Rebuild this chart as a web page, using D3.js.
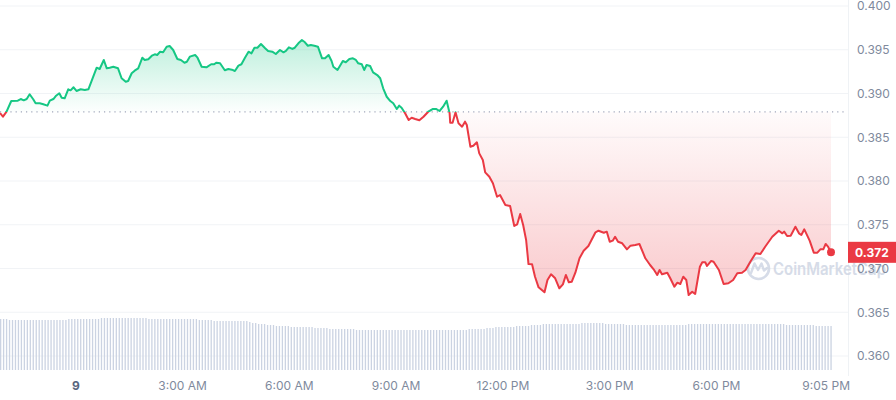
<!DOCTYPE html>
<html><head><meta charset="utf-8">
<script src="https://cdn.jsdelivr.net/npm/d3@7"></script>
<style>html,body{margin:0;padding:0;background:#fff;} svg{display:block;font-family:Inter,"Noto Sans",sans-serif;}</style>
</head><body><svg id="chart" width="896" height="400"></svg>
<script>
// ---------- data ----------
const baseDate = new Date(2024, 0, 9, 0, 0, 0);
// minutes relative to midnight of the 9th (negative = previous evening)
const minutes = [-127,-122,-116,-108,-97,-92,-87,-82,-77,-71,
-67,-60,-54,-47,-43,-37,-33,-27,-23,-18,
-12,-8,-3,2,9,16,22,27,36,41,
48,53,58,64,72,78,85,89,95,100,
106,113,117,123,129,134,138,143,148,154,
159,165,172,178,184,188,193,202,206,213,
221,229,234,238,244,252,258,264,269,275,
280,286,292,297,302,307,313,320,325,332,
338,345,351,355,360,366,370,376,382,386,
392,397,403,409,416,421,427,432,435,442,
451,456,462,468,473,477,483,487,491,497,
502,509,514,519,525,531,536,542,546,550,
556,562,567,573,580,587,595,603,608,614,
620,626,631,632,636,641,646,652,657,660,
666,671,677,681,687,691,698,704,711,716,
725,733,740,745,750,755,760,764,770,775,
781,791,796,802,809,816,822,827,832,837,
843,850,857,865,877,882,891,896,901,906,
910,915,922,930,936,944,951,961,969,975,
981,985,989,998,1003,1010,1015,1020,1025,1030,
1034,1040,1045,1053,1057,1062,1065,1072,1076,1085,
1093,1101,1109,1116,1124,1130,1138,1147,1155,1163,
1175,1186,1192,1195,1200,1206,1214,1220,1224,1229,
1238,1245,1251,1256,1261,1265,1269,1274];
const prices = [0.38777,0.38735,0.38792,0.38914,0.38918,0.38937,0.38922,0.38937,0.38991,0.38934,
0.38888,0.38888,0.38877,0.38861,0.38918,0.38937,0.38971,0.39002,0.38952,0.38945,
0.39048,0.39036,0.39071,0.39029,0.39048,0.39040,0.39048,0.39135,0.39295,0.39280,
0.39383,0.39288,0.39295,0.39306,0.39288,0.39174,0.39135,0.39143,0.39231,0.39261,
0.39288,0.39409,0.39383,0.39391,0.39432,0.39448,0.39440,0.39478,0.39471,0.39535,
0.39543,0.39497,0.39394,0.39383,0.39352,0.39363,0.39421,0.39440,0.39409,0.39306,
0.39299,0.39334,0.39334,0.39352,0.39345,0.39265,0.39280,0.39272,0.39257,0.39318,
0.39334,0.39409,0.39478,0.39459,0.39523,0.39523,0.39566,0.39517,0.39486,0.39478,
0.39451,0.39497,0.39471,0.39486,0.39528,0.39509,0.39523,0.39574,0.39611,0.39592,
0.39546,0.39554,0.39546,0.39535,0.39402,0.39402,0.39440,0.39371,0.39306,0.39269,
0.39371,0.39357,0.39394,0.39402,0.39383,0.39345,0.39334,0.39269,0.39326,0.39314,
0.39242,0.39211,0.39174,0.39059,0.38963,0.38914,0.38888,0.38823,0.38861,0.38838,
0.38774,0.38697,0.38723,0.38709,0.38694,0.38735,0.38792,0.38823,0.38823,0.38800,
0.38849,0.38918,0.38774,0.38666,0.38666,0.38785,0.38659,0.38621,0.38678,0.38640,
0.38392,0.38403,0.38442,0.38316,0.38240,0.38099,0.38049,0.37974,0.37820,0.37840,
0.37726,0.37714,0.37486,0.37505,0.37623,0.37497,0.37326,0.37051,0.37048,0.36906,
0.36785,0.36728,0.36869,0.36934,0.36888,0.36774,0.36819,0.36926,0.36842,0.36849,
0.36952,0.37117,0.37203,0.37257,0.37414,0.37432,0.37409,0.37421,0.37306,0.37318,
0.37363,0.37306,0.37288,0.37219,0.37261,0.37269,0.37280,0.37117,0.37040,0.36991,
0.36926,0.36983,0.36934,0.36952,0.36888,0.36792,0.36838,0.36823,0.36906,0.36869,
0.36697,0.36735,0.36709,0.37021,0.37071,0.37071,0.37029,0.37086,0.37078,0.36983,
0.36823,0.36831,0.36869,0.36945,0.36952,0.36983,0.37078,0.37174,0.37166,0.37249,
0.37363,0.37432,0.37402,0.37421,0.37371,0.37375,0.37478,0.37402,0.37383,0.37448,
0.37318,0.37181,0.37181,0.37219,0.37219,0.37280,0.37249,0.37185];
const openPrice = 0.3879;
const volumeStartMinute = -126;
const volumeStepMinutes = 5;
const volumes = [51,51,51,
50,50,50,50,50,50,50,50,50,50,50,50,50,50,50,50,50,50,50,50,
51,51,51,51,51,51,51,51,51,51,51,
52,52,52,52,52,52,52,52,52,52,52,52,52,52,52,52,
51,51,51,51,51,51,51,51,51,51,51,51,51,51,51,51,51,
50,50,50,50,50,
49,49,49,49,49,49,49,49,49,49,49,49,
48,47,47,46,46,46,45,45,45,
44,44,44,44,44,
43,43,43,43,43,43,43,43,
42,42,42,42,42,
41,41,41,41,41,41,41,41,41,
40,40,40,40,40,40,40,40,40,40,40,40,40,40,40,40,40,40,40,
40,40,40,40,40,40,40,40,40,40,40,40,40,40,40,40,40,40,40,
41,41,41,41,41,41,
42,42,42,
43,43,43,43,43,43,43,
44,44,44,44,44,
45,45,45,45,
46,46,46,46,46,46,46,46,46,46,46,46,46,
47,47,47,47,47,47,47,47,
46,46,46,46,46,46,46,
45,45,45,45,45,45,45,45,45,45,45,45,45,45,45,45,45,45,45,45,45,
46,46,46,46,46,46,46,46,46,46,46,46,46,46,46,46,46,46,46,46,46,46,46,46,46,46,46,46,46,46,46,46,46,
45,45,45,45,45,45,45,45,45,45,
44,44,44,44,44,44];
const yTickValues = [0.360,0.365,0.370,0.375,0.380,0.385,0.390,0.395,0.400];
const xTickMinutes = [0,180,360,540,720,900,1080,1265];
const xTickLabels = ["9","3:00 AM","6:00 AM","9:00 AM","12:00 PM","3:00 PM","6:00 PM","9:05 PM"];

// ---------- chart ----------
const GREEN = "#16c784", RED = "#ea3943";
const svg = d3.select("#chart");
const plotRight = 831, axisX = 848;
const toDate = m => new Date(baseDate.getTime() + m * 60000);
const series = minutes.map((m, i) => ({t: toDate(m), p: prices[i]}));

const x = d3.scaleTime()
  .domain([toDate(minutes[0]), toDate(minutes[minutes.length - 1])])
  .range([0, plotRight]);
const y = d3.scaleLinear().domain([0.36, 0.40]).range([356, 6]);
const yVol = d3.scaleLinear().domain([0, 100]).range([370, 270]);
const yBase = y(openPrice);

const defs = svg.append("defs");
defs.append("clipPath").attr("id", "above").append("rect")
  .attr("x", -5).attr("y", -5).attr("width", 900).attr("height", yBase + 5);
defs.append("clipPath").attr("id", "below").append("rect")
  .attr("x", -5).attr("y", yBase).attr("width", 900).attr("height", 400);
const gG = defs.append("linearGradient").attr("id", "gGreen")
  .attr("gradientUnits", "userSpaceOnUse").attr("x1", 0).attr("x2", 0)
  .attr("y1", y(d3.max(prices))).attr("y2", yBase);
gG.append("stop").attr("offset", 0).attr("stop-color", GREEN).attr("stop-opacity", 0.28);
gG.append("stop").attr("offset", 1).attr("stop-color", GREEN).attr("stop-opacity", 0.01);
const gR = defs.append("linearGradient").attr("id", "gRed")
  .attr("gradientUnits", "userSpaceOnUse").attr("x1", 0).attr("x2", 0)
  .attr("y1", yBase).attr("y2", y(d3.min(prices)));
gR.append("stop").attr("offset", 0).attr("stop-color", RED).attr("stop-opacity", 0.02);
gR.append("stop").attr("offset", 1).attr("stop-color", RED).attr("stop-opacity", 0.27);

// gridlines
svg.append("g").selectAll("line").data(yTickValues).join("line")
  .attr("x1", 0).attr("x2", axisX)
  .attr("y1", d => y(d)).attr("y2", d => y(d))
  .attr("stroke", "#f1f3f6").attr("stroke-width", 1);
svg.append("line").attr("x1", axisX + 0.5).attr("x2", axisX + 0.5)
  .attr("y1", 0).attr("y2", 376).attr("stroke", "#eff2f5");

// volume bars
svg.append("g").selectAll("rect").data(volumes).join("rect")
  .attr("x", (d, i) => x(toDate(volumeStartMinute + i * volumeStepMinutes)) - 0.6)
  .attr("width", 1.3)
  .attr("y", d => yVol(d))
  .attr("height", d => yVol(0) - yVol(d))
  .attr("fill", "#cbd3e2");

// areas
const area = d3.area().x(d => x(d.t)).y0(yBase).y1(d => y(d.p));
svg.append("path").datum(series).attr("d", area)
  .attr("fill", "url(#gGreen)").attr("clip-path", "url(#above)");
svg.append("path").datum(series).attr("d", area)
  .attr("fill", "url(#gRed)").attr("clip-path", "url(#below)");

// watermark
const wm = svg.append("g").attr("opacity", 0.85);
wm.append("circle").attr("cx", 758.5).attr("cy", 268.5).attr("r", 10.5)
  .attr("fill", "none").attr("stroke", "#cfd6e4").attr("stroke-width", 2.6);
wm.append("path").attr("d", "M751,273 L754.5,263.5 L758,270 L761.5,263.5 L764,270.5 L767,268")
  .attr("fill", "none").attr("stroke", "#cfd6e4").attr("stroke-width", 2.4)
  .attr("stroke-linejoin", "round").attr("stroke-linecap", "round");
wm.append("text").attr("x", 773).attr("y", 274.5).text("CoinMarketCap")
  .attr("font-size", 17).attr("font-weight", 600).attr("fill", "#cfd6e4")
  .attr("textLength", 113).attr("lengthAdjust", "spacingAndGlyphs");

// baseline (open price)
svg.append("line").attr("x1", 0).attr("x2", axisX - 2)
  .attr("y1", yBase).attr("y2", yBase)
  .attr("stroke", "#a1a7bb").attr("stroke-width", 1.2).attr("stroke-dasharray", "1.2,4");

// lines
const line = d3.line().x(d => x(d.t)).y(d => y(d.p));
svg.append("path").datum(series).attr("d", line).attr("fill", "none")
  .attr("stroke", GREEN).attr("stroke-width", 2).attr("stroke-linejoin", "round")
  .attr("clip-path", "url(#above)");
svg.append("path").datum(series).attr("d", line).attr("fill", "none")
  .attr("stroke", RED).attr("stroke-width", 2).attr("stroke-linejoin", "round")
  .attr("clip-path", "url(#below)");

// last point
const last = series[series.length - 1];
svg.append("circle").attr("cx", x(last.t)).attr("cy", y(last.p)).attr("r", 4).attr("fill", RED);

// y axis labels (right)
const yAxis = d3.axisRight(y).tickValues(yTickValues).tickFormat(d3.format(".3f")).tickSize(0).tickPadding(0);
const gy = svg.append("g").attr("transform", `translate(${axisX + 9},0)`).call(yAxis);
gy.select(".domain").remove();
gy.selectAll("text").attr("font-family", "Inter, sans-serif").attr("font-size", 12).attr("fill", "#808a9d");

// current price label
const ly = y(last.p);
svg.append("rect").attr("x", axisX).attr("y", ly - 10.5).attr("width", 48).attr("height", 21).attr("fill", RED);
svg.append("text").attr("x", axisX + 24).attr("y", ly).attr("dy", "0.35em")
  .attr("text-anchor", "middle").attr("fill", "#fff").attr("font-size", 12).attr("font-weight", 700)
  .text(d3.format(".3f")(last.p));

// x axis labels
const xAxis = d3.axisBottom(x).tickValues(xTickMinutes.map(toDate))
  .tickFormat((d, i) => xTickLabels[i]).tickSize(0).tickPadding(0);
const gx = svg.append("g").attr("transform", "translate(0,381)").call(xAxis);
gx.select(".domain").remove();
gx.selectAll("text").attr("font-family", "Inter, sans-serif").attr("font-size", 12)
  .attr("fill", "#808a9d")
  .attr("font-weight", (d, i) => i === 0 ? 700 : 400)
  .attr("fill", (d, i) => i === 0 ? "#58667e" : "#808a9d");
</script></body></html>
